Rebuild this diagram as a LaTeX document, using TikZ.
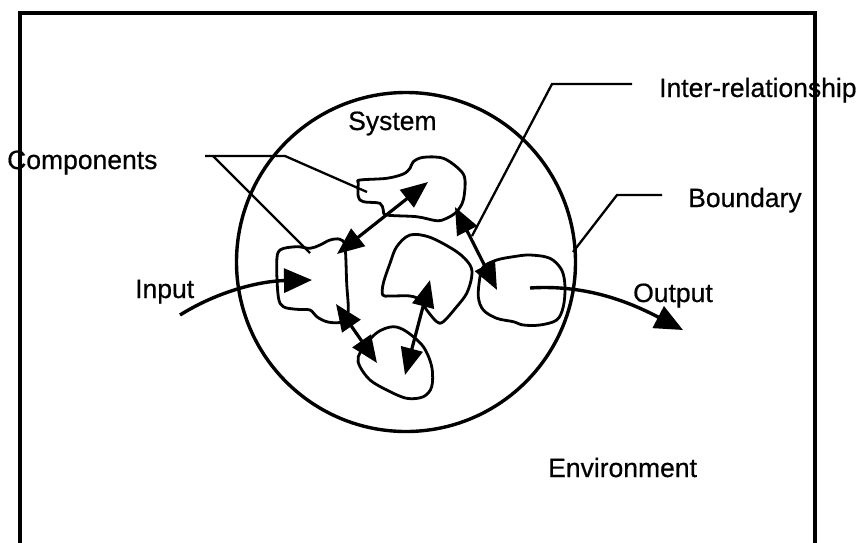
\documentclass[tikz,border=0pt]{standalone}
\usepackage{fontspec}
\setmainfont{Liberation Sans}
\usetikzlibrary{arrows.meta}
\begin{document}
\begin{tikzpicture}[x=1pt,y=-1pt,
  lbl/.style={font=\fontsize{26.5}{26.5}\selectfont\addfontfeature{FakeBold=0.6}, inner sep=0pt, anchor=base west},
  blob/.style={line width=2.8pt, line join=round},
  link/.style={line width=3.2pt, {Triangle[length=27pt,width=22pt]}-{Triangle[length=27pt,width=22pt]}},
  flow/.style={line width=3.4pt, -{Triangle[length=28pt,width=24pt]}},
  leader/.style={line width=2.3pt, line join=miter},
]
\useasboundingbox (0,0) rectangle (858,542);

% environment frame, open at the bottom
\draw[line width=3.6pt] (20,546) -- (20,13) -- (815,13) -- (815,546);

% system boundary
\node[draw, circle, line width=3.4pt, minimum size=339pt, inner sep=0pt] (sys) at (406,262) {};

% components
\draw[blob] plot[smooth cycle, tension=0.55] coordinates {
  (360,180) (386.7,178.3) (403.3,174) (410,168.3) (413.3,161.7) (423.3,157.3)
  (443.3,158.3) (460,170) (465,180) (463.3,200) (456.7,211.7) (446.7,218.3)
  (436.7,220.7) (416.7,216.7) (386.7,215) (383.3,210) (380,203.3) (363.3,201.7)
  (358.3,196.7) (358.3,183.3)};
\draw[blob] plot[smooth cycle, tension=0.55] coordinates {
  (280,250) (296.7,246.7) (310,248.3) (320,245) (330,240) (340,239.3)
  (345,246.7) (346.7,283.3) (348.3,310) (345,320) (338.3,322.7) (326.7,321.7)
  (316.7,316.7) (310,310) (296.7,309.3) (283.3,306.7) (278.3,296.7) (276.7,263.3)};
\draw[blob] plot[smooth cycle, tension=0.55] coordinates {
  (410,235) (430,237.3) (456.7,251.7) (470,265) (471.7,276.7) (466.7,293.3)
  (456.7,306.7) (443.3,321.7) (436.7,321.7) (426.7,310) (420,300) (410,296)
  (390,296) (382.7,295) (383.3,283.3) (390,263.3) (396.7,246.7)};
\draw[blob] plot[smooth cycle, tension=0.55] coordinates {
  (393.3,326.7) (406.7,331.7) (423.3,346.7) (431.7,366.7) (431.7,386.7)
  (423.3,396.7) (406.7,398.3) (386.7,390) (370,380) (360,366.7) (358.3,356.7)
  (366.7,343.3) (378.3,331.7)};
\draw[blob] plot[smooth cycle, tension=0.55] coordinates {
  (483.3,266.7) (496.7,260) (513.3,256.7) (530,255) (550,258.3) (561.7,270)
  (565,286.7) (563.3,306.7) (556.7,320) (540,325) (523.3,325) (513.3,321.7)
  (496.7,318.3) (483.3,310) (478.3,296.7) (480,276.7)};

% ends of the inter-relationship arrows
\coordinate (a1) at (428,182);
\coordinate (a2) at (337,254);
\coordinate (b1) at (336,304);
\coordinate (b2) at (377,363);
\coordinate (c1) at (405,375);
\coordinate (c2) at (430,280);
\coordinate (d1) at (455,207);
\coordinate (d2) at (497,290);
\draw[link] (a2) -- (a1);
\draw[link] (b1) -- (b2);
\draw[link] (c1) -- (c2);
\draw[link] (d1) -- (d2);

% input and output flows
\coordinate (inS) at (180,315);
\coordinate (inE) at (312,280);
\coordinate (outS) at (530,288);
\coordinate (outE) at (683,330);
\draw[flow] (inS) .. controls (220,290) and (262,281) .. (inE);
\draw[flow] (outS) .. controls (590,284) and (635,305) .. (outE);

% labels
\node[lbl] (tSys) at (348,130) {System};
\node[lbl] (tComp) at (7,169) {Components};
\node[lbl] (tInter) at (659,97) {Inter-relationship};
\node[lbl] (tBound) at (688,207) {Boundary};
\node[lbl] (tIn) at (135,298) {Input};
\node[lbl] (tOut) at (633,302) {Output};
\node[lbl] (tEnv) at (548,477) {Environment};

% leader lines
\coordinate (cA) at (205,156);
\coordinate (cK) at (285,156);
\coordinate (cB) at (213,156);
\coordinate (cT1) at (367,192);
\coordinate (cT2) at (310,253);
\draw[leader] (cA) -- (cK) -- (cT1);
\draw[leader] (cB) -- (cT2);
\coordinate (iA) at (632,84);
\coordinate (iK) at (552,84);
\coordinate (iT) at (472,236);
\draw[leader] (iA) -- (iK) -- (iT);
\coordinate (bA) at (662,195);
\coordinate (bK) at (617,195);
\coordinate (bT) at (573,252);
\draw[leader] (bA) -- (bK) -- (bT);
\end{tikzpicture}
\end{document}
